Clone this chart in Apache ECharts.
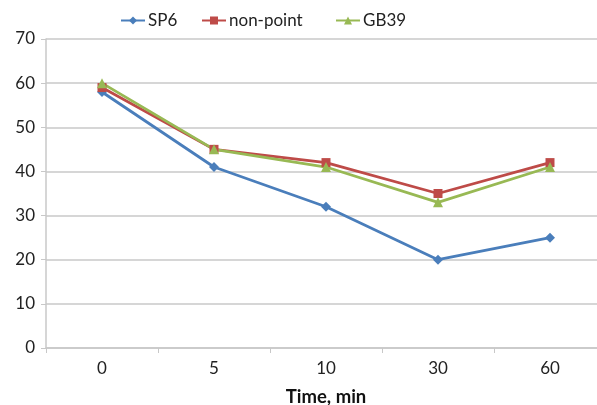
<!DOCTYPE html>
<html><head><meta charset="utf-8">
<script src="https://cdn.jsdelivr.net/npm/echarts@6/dist/echarts.min.js"></script>
<style>html,body{margin:0;padding:0;background:#fff;overflow:hidden}#c{width:597px;height:405px}</style>
</head><body><div id="c"></div>
<script>
const categories = ['0', '5', '10', '30', '60'];
const sp6 = [58, 41, 32, 20, 25];
const nonPoint = [59, 45, 42, 35, 42];
const gb39 = [60, 45, 41, 33, 41];
const yTicks = [0, 10, 20, 30, 40, 50, 60, 70];

const font = 'Lato, "Open Sans", sans-serif';
const chart = echarts.init(document.getElementById('c'));
function mk(name, data, color, symbol, size) {
  return {
    name, type: 'line', data, symbol, symbolSize: size,
    lineStyle: { color, width: 2.8 }, itemStyle: { color },
    emphasis: { disabled: true }, animation: false
  };
}
function lg(name, left) {
  return {
    left, top: 7, itemWidth: 24, itemHeight: 10, itemGap: 0,
    textStyle: { fontFamily: font, fontSize: 17, color: '#222', padding: [0, 0, 0, -2] },
    data: [name], selectedMode: false
  };
}
chart.setOption({
  animation: false,
  legend: [lg('SP6', 115), lg('non-point', 196), lg('GB39', 330)],
  grid: { left: 46, top: 39, right: -9, bottom: 57, containLabel: false, outerBoundsMode: 'none' },
  xAxis: {
    type: 'category', data: categories, boundaryGap: true,
    name: 'Time, min', nameLocation: 'middle', nameGap: 40,
    nameTextStyle: { fontFamily: font, fontSize: 18.5, fontWeight: 'bold', color: '#111' },
    axisLine: { lineStyle: { color: '#c8c8c8', width: 1.5 } },
    axisTick: { show: true, length: 5, lineStyle: { color: '#c8c8c8' } },
    axisLabel: { fontFamily: font, fontSize: 17, color: '#222', margin: 12 }
  },
  yAxis: {
    type: 'value', min: yTicks[0], max: yTicks[yTicks.length - 1], interval: 10,
    axisLine: { show: true, lineStyle: { color: '#c8c8c8', width: 1.5 } },
    axisTick: { show: true, length: 5, lineStyle: { color: '#c8c8c8' } },
    splitLine: { lineStyle: { color: '#c8c8c8', width: 1.5 } },
    axisLabel: { fontFamily: font, fontSize: 17, color: '#222', margin: 11 }
  },
  series: [
    mk('SP6', sp6, '#4a7ebb', 'diamond', 10),
    mk('non-point', nonPoint, '#be4b48', 'rect', 9),
    mk('GB39', gb39, '#98b954', 'triangle', 10)
  ]
});
</script></body></html>
